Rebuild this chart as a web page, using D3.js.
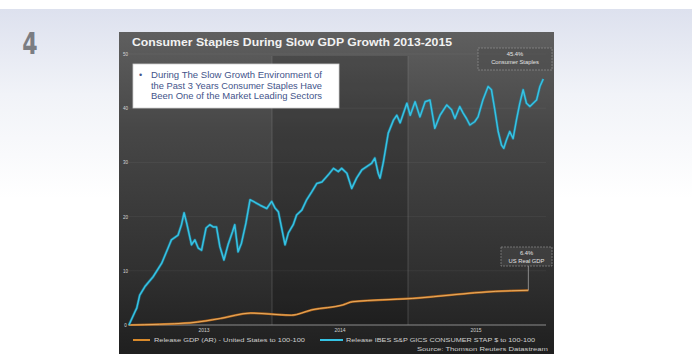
<!DOCTYPE html>
<html>
<head>
<meta charset="utf-8">
<script src="https://cdn.jsdelivr.net/npm/d3@7"></script>
<style>
  html, body { margin: 0; padding: 0; background: #fff; }
  svg { display: block; }
</style>
</head>
<body>
<svg id="chart" width="692" height="354"></svg>
<script>
// Consumer staples index vs. US real GDP, cumulative % change since end of 2012
const staplesDates = [
  "2012-12-13","2012-12-29","2013-01-03","2013-01-11","2013-01-25","2013-02-16","2013-03-11","2013-03-28",
  "2013-04-06","2013-04-24","2013-05-03","2013-05-10","2013-05-17","2013-05-30","2013-06-08","2013-06-17",
  "2013-06-26","2013-07-08","2013-07-18","2013-07-27","2013-08-05","2013-08-14","2013-08-25","2013-09-05",
  "2013-09-17","2013-09-23","2013-10-02","2013-10-11","2013-10-23","2013-11-03","2013-11-12","2013-11-30",
  "2013-12-18","2013-12-31","2014-01-09","2014-01-18","2014-02-05","2014-02-14","2014-02-27","2014-03-08",
  "2014-03-22","2014-04-04","2014-04-18","2014-05-01","2014-05-15","2014-06-01","2014-06-15","2014-06-28",
  "2014-07-07","2014-07-21","2014-08-03","2014-08-16","2014-08-30","2014-09-12","2014-09-25","2014-10-04",
  "2014-10-13","2014-10-18","2014-10-27","2014-11-09","2014-11-23","2014-12-02","2014-12-11","2014-12-20",
  "2014-12-29","2015-01-07","2015-01-20","2015-02-02","2015-02-16","2015-03-01","2015-03-14","2015-03-28",
  "2015-04-15","2015-04-28","2015-05-07","2015-05-20","2015-05-29","2015-06-07","2015-06-16","2015-06-29",
  "2015-07-08","2015-07-21","2015-08-04","2015-08-13","2015-08-22","2015-08-31","2015-09-09","2015-09-15",
  "2015-09-22","2015-10-01","2015-10-10","2015-10-19","2015-10-28","2015-11-06","2015-11-15","2015-11-24",
  "2015-12-03","2015-12-12","2015-12-21","2015-12-30"
];
const staplesValues = [
  0.0, 2.4, 3.1, 5.5, 7.1, 8.9, 11.4, 14.2,
  15.7, 16.6, 18.5, 20.7, 18.8, 14.8, 15.7, 14.2,
  13.8, 17.9, 18.5, 18.1, 18.1, 14.5, 12.0, 14.8,
  17.2, 18.5, 13.5, 15.1, 18.8, 23.1, 22.8, 22.1,
  21.5, 22.8, 21.6, 20.9, 14.8, 17.0, 18.5, 20.3,
  21.2, 23.1, 24.6, 26.1, 26.4, 27.7, 28.9, 28.3,
  28.9, 28.0, 25.2, 27.1, 28.6, 29.2, 29.8, 30.8,
  28.0, 27.1, 30.1, 35.4, 37.8, 38.7, 37.3, 39.1,
  40.9, 38.7, 41.2, 38.4, 41.2, 41.5, 36.3, 38.7,
  40.6, 39.7, 38.1, 40.3, 39.1, 38.1, 36.9, 37.5,
  38.4, 41.5, 44.0, 43.4, 39.7, 35.7, 33.2, 32.6,
  34.1, 35.7, 34.4, 37.8, 40.9, 43.4, 40.9, 40.3,
  40.9, 41.5, 44.0, 45.4
];
const gdpDates = [
  "2012-12-13","2013-05-26","2013-08-15","2013-11-05","2013-12-30","2014-02-22",
  "2014-04-18","2014-07-10","2014-08-06","2015-01-14","2015-08-23","2015-11-20"
];
const gdpValues = [0.0, 0.4, 1.2, 2.2, 2.0, 1.8, 2.8, 3.7, 4.3, 4.9, 6.2, 6.4];

const yTicks = [0, 10, 20, 30, 40, 50];
const yearLabels = ["2013", "2014", "2015"];
const yearBreaks = ["2014-01-01", "2015-01-01"];

const titleText = "Consumer Staples During Slow GDP Growth 2013-2015";
const noteLines = [
  "During The Slow Growth Environment of",
  "the Past 3 Years Consumer  Staples Have",
  "Been One of the Market Leading Sectors"
];
const staplesTag = ["45.4%", "Consumer Staples"];
const gdpTag = ["6.4%", "US Real GDP"];
const legendGdp = "Release GDP (AR) - United States to 100-100";
const legendStaples = "Release IBES S&P GICS CONSUMER STAP $ to 100-100";
const sourceText = "Source: Thomson Reuters Datastream";

const parse = d3.timeParse("%Y-%m-%d");
const staples = staplesDates.map((d, i) => ({ date: parse(d), value: staplesValues[i] }));
const gdp = gdpDates.map((d, i) => ({ date: parse(d), value: gdpValues[i] }));

const svg = d3.select("#chart");
const defs = svg.append("defs");

// page backdrop: pale lavender band fading to white
const bg = defs.append("linearGradient").attr("id", "pageBg").attr("x1", 0).attr("y1", 0).attr("x2", 0).attr("y2", 1);
bg.append("stop").attr("offset", "0%").attr("stop-color", "#dde1ee");
bg.append("stop").attr("offset", "45%").attr("stop-color", "#f1f3f8");
bg.append("stop").attr("offset", "100%").attr("stop-color", "#ffffff");
svg.append("rect").attr("width", 692).attr("height", 354).attr("fill", "#fff");
svg.append("rect").attr("x", 0).attr("y", 9).attr("width", 692).attr("height", 190).attr("fill", "url(#pageBg)");

svg.append("text").attr("transform", "translate(30,54) scale(0.82,1)")
  .attr("text-anchor", "middle")
  .attr("font-family", "'DejaVu Sans Condensed', 'Liberation Sans Narrow', sans-serif")
  .attr("font-weight", "bold").attr("font-size", 30)
  .attr("fill", "#7b7d82").text("4");

// dark chart panel
const panel = { x: 119, y: 32, w: 435, h: 322 };
const pg = defs.append("linearGradient").attr("id", "panelBg").attr("x1", 0).attr("y1", 0).attr("x2", 0).attr("y2", 1);
pg.append("stop").attr("offset", "0%").attr("stop-color", "#5f5f5f");
pg.append("stop").attr("offset", "30%").attr("stop-color", "#474747");
pg.append("stop").attr("offset", "75%").attr("stop-color", "#303030");
pg.append("stop").attr("offset", "100%").attr("stop-color", "#1f1f1f");
svg.append("rect").attr("x", panel.x).attr("y", panel.y).attr("width", panel.w).attr("height", panel.h)
  .attr("fill", "url(#panelBg)");

const x = d3.scaleTime().domain([parse("2013-01-01"), parse("2016-01-01")]).range([136, 544]);
const y = d3.scaleLinear().domain([0, 50]).range([325, 54]);

// darker band over the middle year
svg.append("rect")
  .attr("x", x(parse(yearBreaks[0]))).attr("y", 56)
  .attr("width", x(parse(yearBreaks[1])) - x(parse(yearBreaks[0])))
  .attr("height", y(0) - 56)
  .attr("fill", "#000").attr("opacity", 0.16);

// horizontal grid
svg.append("g").selectAll("line").data(yTicks.slice(1)).join("line")
  .attr("x1", 128).attr("x2", 546)
  .attr("y1", d => y(d)).attr("y2", d => y(d))
  .attr("stroke", "#ffffff").attr("stroke-opacity", 0.05);

// year separators
svg.append("g").selectAll("line").data(yearBreaks).join("line")
  .attr("x1", d => x(parse(d))).attr("x2", d => x(parse(d)))
  .attr("y1", 56).attr("y2", y(0))
  .attr("stroke", "#8a8a8a").attr("stroke-opacity", 0.35).attr("stroke-width", 1);

// y axis labels
const yAxis = d3.axisLeft(y).tickValues(yTicks).tickSize(0).tickPadding(0);
const gy = svg.append("g").attr("transform", "translate(128,0)").call(yAxis);
gy.select(".domain").remove();
gy.selectAll("text").attr("font-family", "'Liberation Sans', Arial, sans-serif")
  .attr("font-size", 4.5).attr("fill", "#d8d8d8").attr("text-anchor", "middle").attr("dx", -2.5);

// x axis
const xAxis = d3.axisBottom(x)
  .tickValues(yearLabels.map(s => parse(s + "-07-01")))
  .tickFormat(d3.timeFormat("%Y")).tickSize(0).tickPadding(3);
const gx = svg.append("g").attr("transform", `translate(0,${y(0)})`).call(xAxis);
gx.select(".domain").remove();
gx.selectAll("text").attr("font-family", "'Liberation Sans', Arial, sans-serif")
  .attr("font-size", 5).attr("fill", "#cfcfcf");
svg.append("line").attr("x1", 128).attr("x2", 546).attr("y1", y(0)).attr("y2", y(0))
  .attr("stroke", "#8c8c8c").attr("stroke-width", 1);

// series lines
const line = d3.line().x(d => x(d.date)).y(d => y(d.value));
const smooth = d3.line().x(d => x(d.date)).y(d => y(d.value)).curve(d3.curveMonotoneX);

svg.append("path").datum(gdp).attr("d", smooth)
  .attr("fill", "none").attr("stroke", "#b8691c").attr("stroke-width", 2.2).attr("stroke-linejoin", "round");
svg.append("path").datum(gdp).attr("d", smooth)
  .attr("fill", "none").attr("stroke", "#f2bd72").attr("stroke-width", 0.8);

svg.append("path").datum(staples).attr("d", line)
  .attr("fill", "none").attr("stroke", "#1f8fb0").attr("stroke-width", 2.8).attr("stroke-opacity", 0.55)
  .attr("stroke-linejoin", "round");
svg.append("path").datum(staples).attr("d", line)
  .attr("fill", "none").attr("stroke", "#35c3e4").attr("stroke-width", 1.5).attr("stroke-linejoin", "round");

// title
svg.append("text").attr("x", 132).attr("y", 46)
  .attr("font-family", "'Liberation Sans', Arial, sans-serif").attr("font-weight", "bold")
  .attr("font-size", 11).attr("fill", "#f2f2f2")
  .attr("textLength", 320).attr("lengthAdjust", "spacingAndGlyphs")
  .text(titleText);

// callout box
svg.append("rect").attr("x", 133).attr("y", 64).attr("width", 206).attr("height", 44)
  .attr("fill", "#ffffff").attr("stroke", "#cfcfcf").attr("stroke-width", 0.8);
const note = svg.append("g").attr("font-family", "'Liberation Sans', Arial, sans-serif")
  .attr("font-size", 9).attr("fill", "#43548a");
note.append("text").attr("x", 139).attr("y", 78).text("•");
note.selectAll("text.l").data(noteLines).join("text").attr("class", "l")
  .attr("x", 151).attr("y", (d, i) => 78 + i * 10.5)
  .attr("textLength", 171).attr("lengthAdjust", "spacingAndGlyphs")
  .text(d => d);

// end-value tags
function tag(lines, bx, by, bw, bh) {
  svg.append("rect").attr("x", bx).attr("y", by).attr("width", bw).attr("height", bh)
    .attr("fill", "#4a4a4a").attr("fill-opacity", 0.5)
    .attr("stroke", "#9a9a9a").attr("stroke-width", 0.6).attr("stroke-dasharray", "2,1");
  svg.append("g").selectAll("text").data(lines).join("text")
    .attr("x", bx + bw / 2).attr("y", (d, i) => by + 7.5 + i * 8.5)
    .attr("text-anchor", "middle")
    .attr("font-family", "'Liberation Sans', Arial, sans-serif").attr("font-size", 5.8)
    .attr("fill", "#e4e4e4").text(d => d);
}
tag(staplesTag, 478, 48, 74, 22);
const gEnd = gdp[gdp.length - 1];
svg.append("line").attr("x1", x(gEnd.date)).attr("x2", x(gEnd.date))
  .attr("y1", 266).attr("y2", y(gEnd.value))
  .attr("stroke", "#b0b0b0").attr("stroke-width", 0.7);
tag(gdpTag, 501, 247, 51, 19);

// legend
const leg = svg.append("g").attr("font-family", "'Liberation Sans', Arial, sans-serif")
  .attr("font-size", 5.6).attr("fill", "#cfcfcf");
leg.append("line").attr("x1", 133).attr("x2", 150).attr("y1", 340).attr("y2", 340)
  .attr("stroke", "#d98a2b").attr("stroke-width", 2);
leg.append("text").attr("x", 154).attr("y", 342)
  .attr("textLength", 151).attr("lengthAdjust", "spacingAndGlyphs").text(legendGdp);
leg.append("line").attr("x1", 320).attr("x2", 343).attr("y1", 340).attr("y2", 340)
  .attr("stroke", "#35c3e4").attr("stroke-width", 2);
leg.append("text").attr("x", 346).attr("y", 342)
  .attr("textLength", 189).attr("lengthAdjust", "spacingAndGlyphs").text(legendStaples);
leg.append("text").attr("x", 548).attr("y", 351).attr("text-anchor", "end")
  .attr("textLength", 131).attr("lengthAdjust", "spacingAndGlyphs").text(sourceText);
</script>
</body>
</html>
